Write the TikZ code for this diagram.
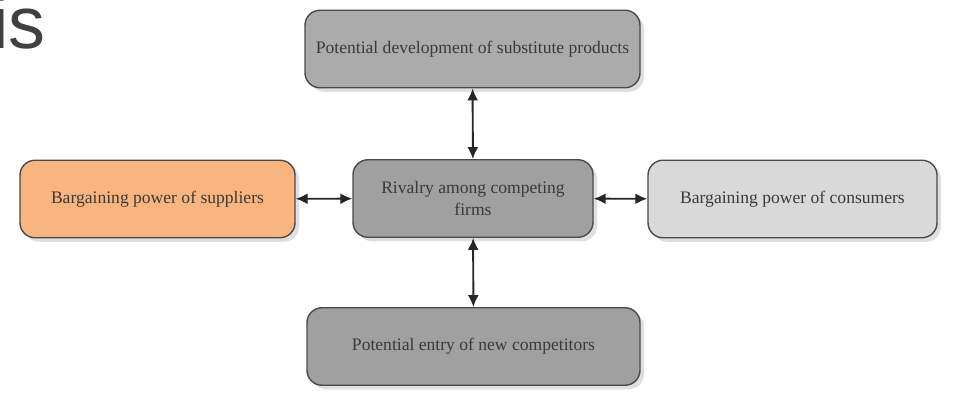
\documentclass[tikz,border=0pt]{standalone}
\usepackage{fontspec}
\setmainfont{Liberation Serif}
\newfontfamily\titulofonte{Liberation Sans}
\usepackage{tikz}
\usetikzlibrary{arrows.meta, positioning, shadows}
\usepackage{xcolor}

\definecolor{laranja}{HTML}{F9B57F}
\definecolor{cinzaclaro}{HTML}{D9D9D9}
\definecolor{cinzamedio}{HTML}{ABABAB}
\definecolor{cinzaescuro}{HTML}{A0A0A0}
\definecolor{borda}{HTML}{4A4A4A}
\definecolor{texto}{HTML}{3A3A3A}

\begin{document}
\begin{tikzpicture}[
    every node/.style={font=\normalsize},
    forca/.style={
        draw=borda,
        line width=0.8pt,
        rounded corners=0.3cm,
        align=center,
        text=texto,
        minimum height=1.55cm,
        drop shadow={
            shadow xshift=0.08cm,
            shadow yshift=-0.08cm,
            opacity=0.25
        }
    },
    seta/.style={
        {Latex[length=2.4mm,width=2.2mm]}-{Latex[length=2.4mm,width=2.2mm]},
        line width=1.1pt,
        draw=black!85
    }
]

\useasboundingbox (0,0) rectangle (19.16,7.9);

% ============================================================
% TÍTULO (cortado)
% ============================================================

\node[
    anchor=base west,
    inner sep=0pt,
    text=black!75,
    font=\titulofonte\fontsize{42}{42}\selectfont
] (titulo) at (-0.16,6.94)
{is};

% ============================================================
% FORÇAS
% ============================================================

% Substitutos
\node[
    forca,
    fill=cinzamedio,
    minimum width=6.7cm
] (substitutos) at (9.45,6.92)
{Potential development of substitute products};

% Rivalidade
\node[
    forca,
    fill=cinzaescuro,
    minimum width=4.8cm
] (rivalidade) at (9.46,3.93)
{Rivalry among competing\\firms};

% Fornecedores
\node[
    forca,
    fill=laranja,
    minimum width=5.5cm
] (fornecedores) at (3.15,3.92)
{Bargaining power of suppliers};

% Consumidores
\node[
    forca,
    fill=cinzaclaro,
    minimum width=5.78cm
] (consumidores) at (15.85,3.92)
{Bargaining power of consumers};

% Entrantes
\node[
    forca,
    fill=cinzaescuro,
    minimum width=6.66cm
] (entrantes) at (9.47,0.97)
{Potential entry of new competitors};

% ============================================================
% SETAS
% ============================================================

\draw[seta] (substitutos) -- (rivalidade);
\draw[seta] (rivalidade) -- (entrantes);
\draw[seta] (fornecedores) -- (rivalidade);
\draw[seta] (rivalidade) -- (consumidores);

\end{tikzpicture}
\end{document}
